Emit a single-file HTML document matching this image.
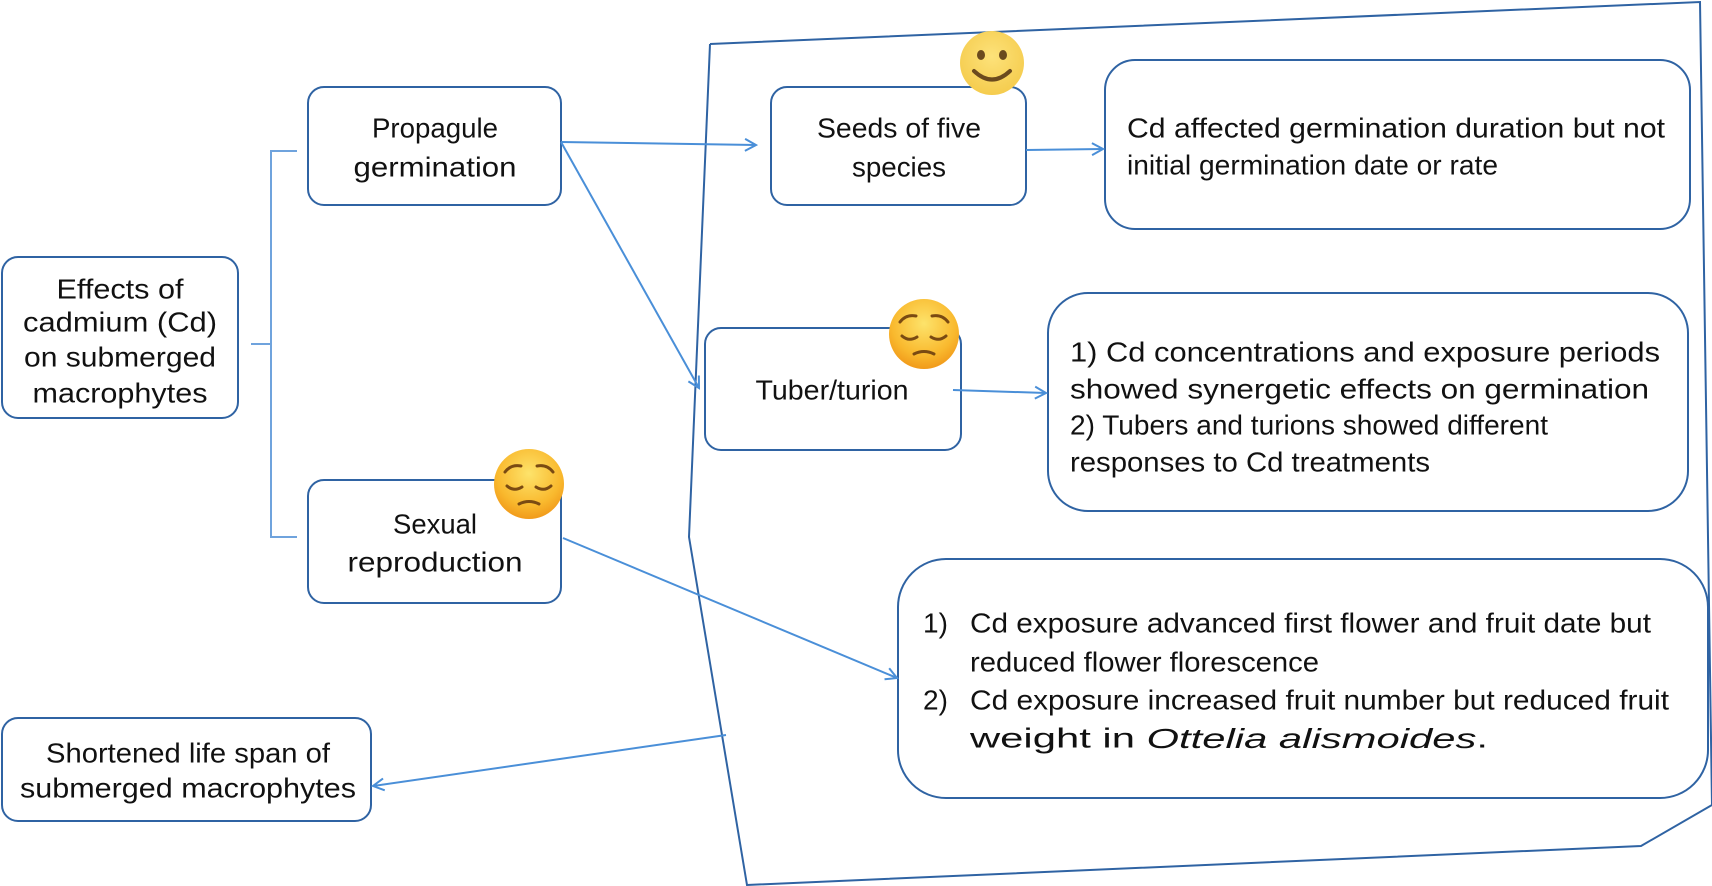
<!DOCTYPE html>
<html><head><meta charset="utf-8"><style>
html,body{margin:0;padding:0;background:#fff;}
svg{display:block;}
text{font-family:"Liberation Sans",sans-serif;font-size:28px;fill:#111;dominant-baseline:central;}
</style></head><body>
<svg width="1712" height="886" viewBox="0 0 1712 886" xmlns="http://www.w3.org/2000/svg">
<defs>
<marker id="ah" markerWidth="14" markerHeight="14" refX="12" refY="7" orient="auto" markerUnits="userSpaceOnUse">
<path d="M1,1 L12,7 L1,13" fill="none" stroke="#4a8fd8" stroke-width="2"/></marker>
<radialGradient id="gy" cx="50%" cy="40%" r="60%"><stop offset="0" stop-color="#fde27a"/><stop offset="1" stop-color="#f5cc4e"/></radialGradient>
<radialGradient id="go" cx="50%" cy="35%" r="65%"><stop offset="0" stop-color="#fde36b"/><stop offset="0.7" stop-color="#f9b92e"/><stop offset="1" stop-color="#f19a1a"/></radialGradient>
</defs>
<polyline points="710,44 1700,2 1712,805 1641,846 747,885 689,537 710,44" fill="none" stroke="#2f63a3" stroke-width="2"/>
<path d="M297,151 L271,151 L271,537 L297,537 M271,344 L251,344" fill="none" stroke="#6fa3dd" stroke-width="2"/>
<g fill="#fff" stroke="#2f63a3" stroke-width="2">
<rect x="2" y="257" width="236" height="161" rx="16"/>
<rect x="308" y="87" width="253" height="118" rx="16"/>
<rect x="308" y="480" width="253" height="123" rx="16"/>
<rect x="2" y="718" width="369" height="103" rx="16"/>
<rect x="771" y="87" width="255" height="118" rx="16"/>
<rect x="705" y="328" width="256" height="122" rx="16"/>
<rect x="1105" y="60" width="585" height="169" rx="30"/>
<rect x="1048" y="293" width="640" height="218" rx="40"/>
<rect x="898" y="559" width="810" height="239" rx="48"/>
</g>
<g stroke="#4a8fd8" stroke-width="2" fill="none" marker-end="url(#ah)">
<line x1="561" y1="142" x2="756" y2="145"/>
<line x1="561" y1="142" x2="699" y2="388"/>
<line x1="1026" y1="150" x2="1103" y2="149"/>
<line x1="953" y1="390" x2="1046" y2="393"/>
<line x1="563" y1="538" x2="897" y2="678"/>
<line x1="726" y1="735" x2="373" y2="786"/>
</g>
<g text-anchor="middle">
<text x="120" y="289" textLength="127" lengthAdjust="spacingAndGlyphs">Effects of</text>
<text x="120" y="322" textLength="194" lengthAdjust="spacingAndGlyphs">cadmium (Cd)</text>
<text x="120" y="357" textLength="192" lengthAdjust="spacingAndGlyphs">on submerged</text>
<text x="120" y="393" textLength="175" lengthAdjust="spacingAndGlyphs">macrophytes</text>
<text x="435" y="128" textLength="126" lengthAdjust="spacingAndGlyphs">Propagule</text>
<text x="435" y="167" textLength="163" lengthAdjust="spacingAndGlyphs">germination</text>
<text x="435" y="524" textLength="84" lengthAdjust="spacingAndGlyphs">Sexual</text>
<text x="435" y="562" textLength="175" lengthAdjust="spacingAndGlyphs">reproduction</text>
<text x="899" y="128" textLength="164" lengthAdjust="spacingAndGlyphs">Seeds of five</text>
<text x="899" y="167" textLength="94" lengthAdjust="spacingAndGlyphs">species</text>
<text x="832" y="390" textLength="153" lengthAdjust="spacingAndGlyphs">Tuber/turion</text>
<text x="188" y="753" textLength="284" lengthAdjust="spacingAndGlyphs">Shortened life span of</text>
<text x="188" y="788" textLength="336" lengthAdjust="spacingAndGlyphs">submerged macrophytes</text>
</g>
<text x="1127" y="128" textLength="538" lengthAdjust="spacingAndGlyphs">Cd affected germination duration but not</text>
<text x="1127" y="165" textLength="371" lengthAdjust="spacingAndGlyphs">initial germination date or rate</text>
<text x="1070" y="352" textLength="590" lengthAdjust="spacingAndGlyphs">1) Cd concentrations and exposure periods</text>
<text x="1070" y="389" textLength="579" lengthAdjust="spacingAndGlyphs">showed synergetic effects on germination</text>
<text x="1070" y="425" textLength="478" lengthAdjust="spacingAndGlyphs">2) Tubers and turions showed different</text>
<text x="1070" y="462" textLength="360" lengthAdjust="spacingAndGlyphs">responses to Cd treatments</text>
<text x="923" y="623">1)</text>
<text x="970" y="623" textLength="681" lengthAdjust="spacingAndGlyphs">Cd exposure advanced first flower and fruit date but</text>
<text x="970" y="662" textLength="349" lengthAdjust="spacingAndGlyphs">reduced flower florescence</text>
<text x="923" y="700">2)</text>
<text x="970" y="700" textLength="699" lengthAdjust="spacingAndGlyphs">Cd exposure increased fruit number but reduced fruit</text>
<text x="970" y="738" textLength="518" lengthAdjust="spacingAndGlyphs">weight in <tspan font-style="italic">Ottelia alismoides</tspan>.</text>
<g>
<circle cx="992" cy="63" r="32" fill="url(#gy)"/>
<ellipse cx="981" cy="55" rx="4" ry="5" fill="#6b4a1e"/>
<ellipse cx="1003" cy="55" rx="4" ry="5" fill="#6b4a1e"/>
<path d="M974,71 Q992,88 1010,71" fill="none" stroke="#6b4a1e" stroke-width="4" stroke-linecap="round"/>
</g>
<g>
<circle cx="924" cy="334" r="35" fill="url(#go)"/>
<path d="M900,322 Q906,314 916,316 M932,316 Q942,314 948,322" fill="none" stroke="#7a4a12" stroke-width="3" stroke-linecap="round"/>
<path d="M902,336 Q909,342 917,337 M931,337 Q939,342 946,336" fill="none" stroke="#7a4a12" stroke-width="3" stroke-linecap="round"/>
<path d="M914,354 Q924,349 934,354" fill="none" stroke="#7a4a12" stroke-width="3" stroke-linecap="round"/>
</g>
<g>
<circle cx="529" cy="484" r="35" fill="url(#go)"/>
<path d="M505,472 Q511,464 521,466 M537,466 Q547,464 553,472" fill="none" stroke="#7a4a12" stroke-width="3" stroke-linecap="round"/>
<path d="M507,486 Q514,492 522,487 M536,487 Q544,492 551,486" fill="none" stroke="#7a4a12" stroke-width="3" stroke-linecap="round"/>
<path d="M519,504 Q529,499 539,504" fill="none" stroke="#7a4a12" stroke-width="3" stroke-linecap="round"/>
</g>
</svg>
</body></html>
